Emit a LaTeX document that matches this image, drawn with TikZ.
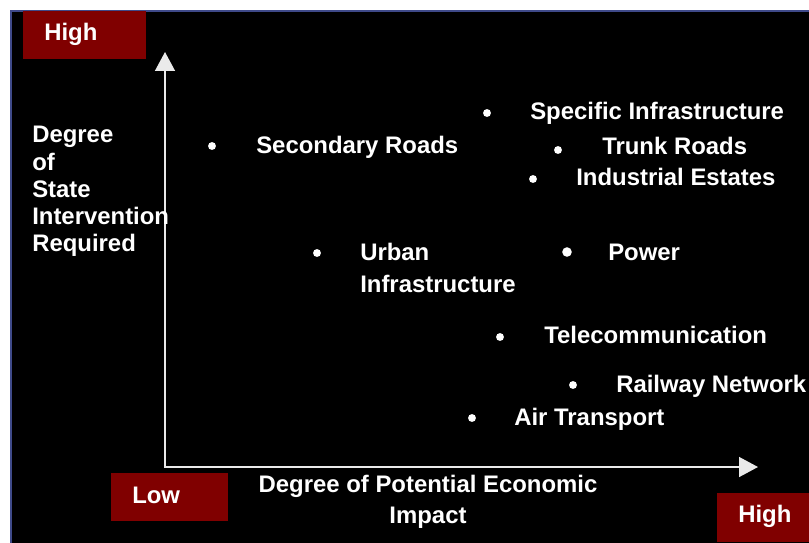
\documentclass[tikz,border=0pt]{standalone}
\usepackage{fontspec}
\setmainfont{Liberation Sans}
\usetikzlibrary{arrows.meta}
\definecolor{boxred}{HTML}{800000}
\definecolor{frameblue}{HTML}{3F4A8A}
\definecolor{axisgray}{HTML}{EAEAEA}
\begin{document}
\begin{tikzpicture}[x=0.025cm,y=-0.025cm,
  lbl/.style={text=white,font=\fontsize{17}{19.4}\selectfont\bfseries,inner sep=0pt},
  dot/.style={circle,fill=white,inner sep=0pt,minimum size=5.6pt},
  redbox/.style={fill=boxred,inner sep=0pt,minimum height=34.1pt}]
\useasboundingbox (0,0) rectangle (809,542);
\draw[frameblue,line width=1.1pt,fill=black] (11,11) rectangle (812,545);

\node[redbox,minimum width=87.5pt] (hightop) at (84.5,35) {};
\node[lbl,anchor=base west] (hightoptxt) at (44,40) {High};
\node[redbox,minimum width=83.2pt] (low) at (169.5,497) {};
\node[lbl,anchor=base west] (lowtxt) at (132,503) {Low};
\node[redbox,minimum width=65.4pt,minimum height=34.9pt] (highright) at (763,517.5) {};
\node[lbl,anchor=base west] (highrighttxt) at (738,522) {High};

\coordinate (origin) at (165,467);
\coordinate (ytip) at (165,52);
\coordinate (xtip) at (758,467);
\draw[axisgray,line width=1.1pt,{Triangle[length=13.5pt,width=14.2pt]}-{Triangle[length=13.5pt,width=14.2pt]}] (ytip) -- (origin) -- (xtip);

\node[lbl,anchor=north west,align=left] (yaxis) at (32,126) {Degree\\of\\State\\Intervention\\Required};
\node[lbl,anchor=north,align=center,font=\fontsize{17}{22}\selectfont\bfseries] (xaxis) at (428,475) {Degree of Potential Economic\\Impact};

\node[dot] (dsec) at (212,146) {};
\node[lbl,anchor=base west] (sec) at (256,153) {Secondary Roads};
\node[dot] (dspec) at (487,113) {};
\node[lbl,anchor=base west] (spec) at (530,119) {Specific Infrastructure};
\node[dot] (dtrunk) at (558,150) {};
\node[lbl,anchor=base west] (trunk) at (602,154) {Trunk Roads};
\node[dot] (dind) at (533,179) {};
\node[lbl,anchor=base west] (ind) at (576,185) {Industrial\ Estates};
\node[dot] (durban) at (317,253) {};
\node[lbl,anchor=north west,align=left,font=\fontsize{17}{22.8}\selectfont\bfseries] (urban) at (360,243) {Urban\\Infrastructure};
\node[dot,minimum size=6.8pt] (dpower) at (567,252) {};
\node[lbl,anchor=base west] (power) at (608,260) {Power};
\node[dot] (dtele) at (500,337) {};
\node[lbl,anchor=base west] (tele) at (544,343) {Telecommunication};
\node[dot] (drail) at (573,385) {};
\node[lbl,anchor=base west] (rail) at (616,392) {Railway Network};
\node[dot] (dair) at (472,418) {};
\node[lbl,anchor=base west] (air) at (514,425) {Air Transport};
\end{tikzpicture}
\end{document}
